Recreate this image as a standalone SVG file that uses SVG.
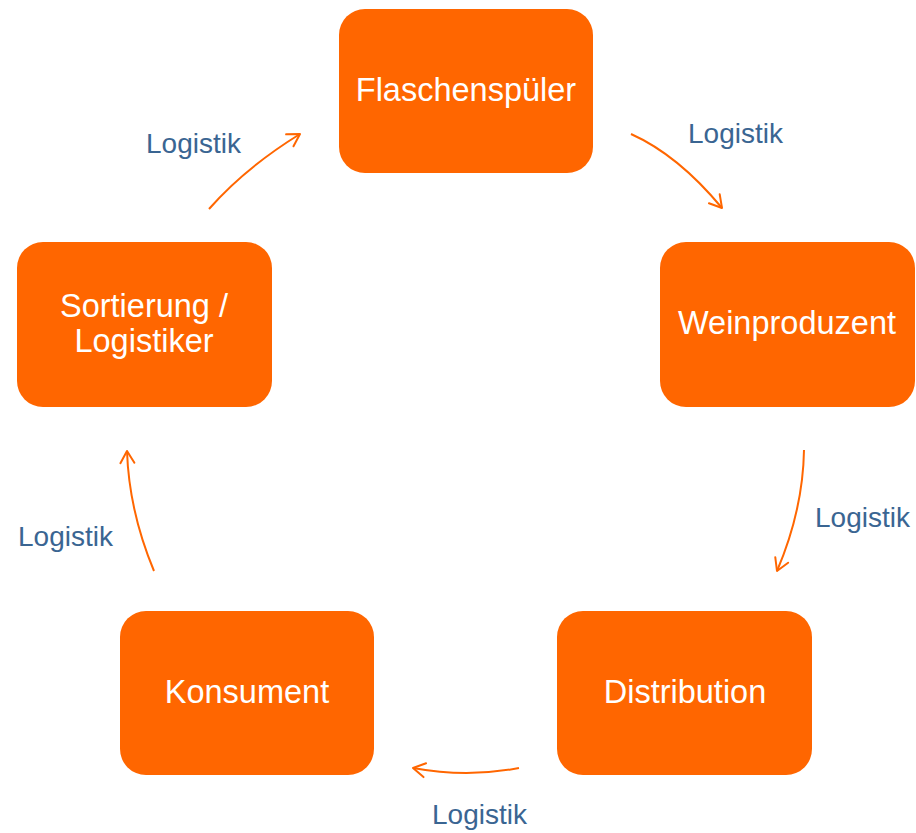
<svg xmlns="http://www.w3.org/2000/svg" width="916" height="833" viewBox="0 0 916 833">
  <defs>
    <style>
      .box { fill: #FF6600; }
      .box-text { font-family: "Liberation Sans", Arial, sans-serif; font-size: 32.5px; fill: #FFFFFF; text-anchor: middle; }
      .flow { fill: none; stroke: #FF6600; stroke-width: 2; marker-end: url(#head); }
      .label { font-family: "Liberation Sans", Arial, sans-serif; font-size: 28px; fill: #3A6592; }
    </style>
    <marker id="head" viewBox="-14 -9 16 18" markerWidth="16" markerHeight="18" refX="0" refY="0" orient="auto" markerUnits="userSpaceOnUse">
      <path d="M-12,-7 L0,0 L-12,7" fill="none" stroke="#FF6600" stroke-width="2" stroke-linecap="round" stroke-linejoin="round"/>
    </marker>
  </defs>

  <rect width="916" height="833" fill="#FFFFFF"/>

  <g id="connectors">
    <path class="flow" d="M209,209 Q245,168 300,134"/>
    <path class="flow" d="M631,134 Q678,155 722,208"/>
    <path class="flow" d="M804,450 Q803,510 777,571"/>
    <path class="flow" d="M519,768 Q467,778 413,768"/>
    <path class="flow" d="M154,571 Q129,511 127,451"/>
  </g>

  <g id="labels">
    <text class="label" x="146" y="153">Logistik</text>
    <text class="label" x="688" y="143">Logistik</text>
    <text class="label" x="815" y="527">Logistik</text>
    <text class="label" x="432" y="824">Logistik</text>
    <text class="label" x="18" y="546">Logistik</text>
  </g>

  <g id="flaschenspueler">
    <rect class="box" x="339" y="9" width="254" height="164" rx="26"/>
    <text class="box-text" x="466" y="101">Flaschenspüler</text>
  </g>

  <g id="weinproduzent">
    <rect class="box" x="660" y="242" width="255" height="165" rx="26"/>
    <text class="box-text" x="787" y="334">Weinproduzent</text>
  </g>

  <g id="distribution">
    <rect class="box" x="557" y="611" width="255" height="164" rx="26"/>
    <text class="box-text" x="685" y="703">Distribution</text>
  </g>

  <g id="konsument">
    <rect class="box" x="120" y="611" width="254" height="164" rx="26"/>
    <text class="box-text" x="247" y="703">Konsument</text>
  </g>

  <g id="sortierung">
    <rect class="box" x="17" y="242" width="255" height="165" rx="26"/>
    <text class="box-text" x="144" y="317">Sortierung /</text>
    <text class="box-text" x="144" y="352">Logistiker</text>
  </g>
</svg>
